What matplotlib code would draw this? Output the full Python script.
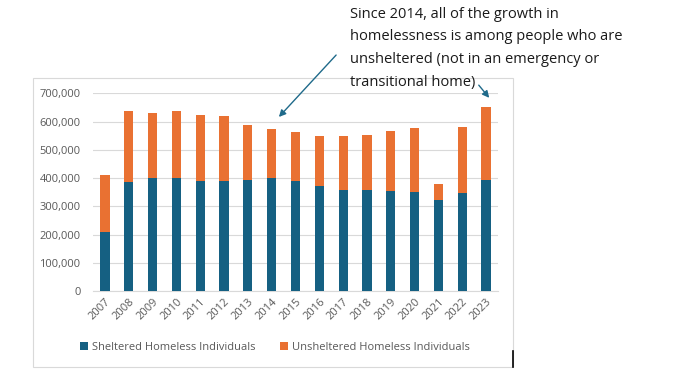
import matplotlib.pyplot as plt
from matplotlib.lines import Line2D
from matplotlib.patches import Rectangle, FancyArrowPatch
import numpy as np

years = ['2007', '2008', '2009', '2010', '2011', '2012', '2013', '2014', '2015',
         '2016', '2017', '2018', '2019', '2020', '2021', '2022', '2023']
sheltered = [209000, 387000, 401000, 401000, 391000, 390000, 394000, 401000, 391000,
             373000, 359000, 359000, 355000, 351000, 323000, 347000, 394000]
total = [411000, 637000, 630000, 637000, 624000, 620000, 588000, 574000, 563000,
         549000, 549000, 553000, 567000, 577000, 379000, 581000, 652000]
unsheltered = [t - s for t, s in zip(total, sheltered)]
yticks = [0, 100000, 200000, 300000, 400000, 500000, 600000, 700000]
note_lines = ['Since 2014, all of the growth in',
              'homelessness is among people who are',
              'unsheltered (not in an emergency or',
              'transitional home)']

blue = '#156082'
orange = '#E97132'
grey = '#595959'

plt.rcParams['font.family'] = ['Open Sans', 'DejaVu Sans']

fig = plt.figure(figsize=(6.8, 3.78), dpi=100)

# chart frame
fig.patches.append(Rectangle((33 / 680, 1 - 367 / 378), 480 / 680, 289 / 378,
                             transform=fig.transFigure, fill=False,
                             edgecolor='#d9d9d9', linewidth=0.8))
fig.lines.append(Line2D([513 / 680, 513 / 680], [1 - 367 / 378, 1 - 351 / 378],
                        transform=fig.transFigure, color='black', linewidth=1.2))

ax = fig.add_axes([93 / 680, 1 - 291 / 378, 405 / 680, 197.7 / 378])
x = np.arange(len(years))
ax.bar(x, sheltered, width=0.39, color=blue, label='Sheltered Homeless Individuals', zorder=3)
ax.bar(x, unsheltered, width=0.39, bottom=sheltered, color=orange,
       label='Unsheltered Homeless Individuals', zorder=3)

ax.set_xlim(-0.5, len(years) - 0.5)
ax.set_ylim(0, 700000)
ax.set_yticks(yticks)
ax.set_yticklabels([f'{v:,}' for v in yticks])
ax.set_xticks(x)
ax.set_xticklabels(years, rotation=45, ha='right', rotation_mode='anchor')
ax.tick_params(axis='both', length=0, colors=grey, labelsize=8)
ax.tick_params(axis='x', pad=4)
ax.tick_params(axis='y', pad=9)
ax.grid(axis='y', color='#d9d9d9', linewidth=0.8, zorder=0)
for s in ['top', 'right', 'left']:
    ax.spines[s].set_visible(False)
ax.spines['bottom'].set_color('#d9d9d9')

fig.legend(loc='center', bbox_to_anchor=(275 / 680, 1 - 347 / 378), ncol=2, frameon=False,
           fontsize=8, labelcolor=grey, handlelength=0.7, handleheight=0.7,
           handletextpad=0.35, columnspacing=2.2)

# annotation
for i, line in enumerate(note_lines):
    fig.text(350 / 680, 1 - (14 + 22.7 * i) / 378, line, ha='left', va='center',
             fontsize=10.5, color='#1a1a1a')
fig.patches.append(FancyArrowPatch(
    (338 / 680, 1 - 53 / 378), (277 / 680, 1 - 119 / 378), transform=fig.transFigure,
    arrowstyle='-|>', mutation_scale=10, color='#1f6a8a', linewidth=1))
fig.patches.append(FancyArrowPatch(
    (477 / 680, 1 - 83 / 378), (491 / 680, 1 - 100 / 378), transform=fig.transFigure,
    arrowstyle='-|>', mutation_scale=10, color='#1f6a8a', linewidth=1))

fig.savefig('out.png', dpi=100)
